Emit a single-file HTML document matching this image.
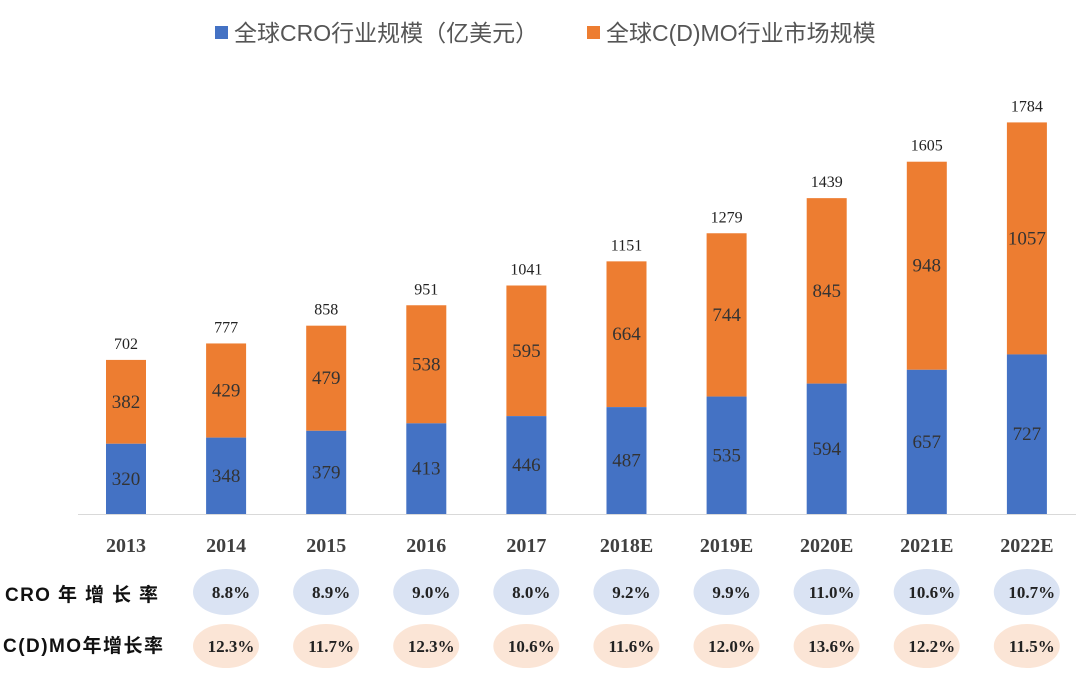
<!DOCTYPE html>
<html><head><meta charset="utf-8"><style>
body{margin:0;background:#fff}
svg{display:block}
.y{font-family:"Liberation Serif",serif;font-weight:bold;font-size:20px;fill:#404040}
.in{font-family:"Liberation Serif",serif;font-size:19px;fill:#333}
.tot{font-family:"Liberation Serif",serif;font-size:16px;fill:#222}
.p{font-family:"Liberation Serif",serif;font-weight:bold;font-size:17px;fill:#222}
.lg{font-family:"Liberation Sans","Noto Sans CJK SC",sans-serif;font-size:23px;fill:#555}
.rl{font-family:"Liberation Sans","Noto Sans CJK SC",sans-serif;font-weight:bold;font-size:19px;fill:#111}
</style></head><body>
<svg width="1080" height="697" viewBox="0 0 1080 697">
<rect x="215" y="26" width="13" height="13" fill="#4472c4"/>
<text x="234" y="41" class="lg">全球CRO行业规模（亿美元）</text>
<rect x="587" y="26" width="13" height="13" fill="#ed7d31"/>
<text x="606" y="41" class="lg">全球C(D)MO行业市场规模</text>
<line x1="78" y1="514.5" x2="1076" y2="514.5" stroke="#d9d9d9" stroke-width="1"/>
<g id="bars"></g>
<text x="5" y="601" class="rl" textLength="153">CRO 年 增  长 率</text>
<text x="3" y="652" class="rl" textLength="160">C(D)MO年增长率</text>
<g id="el"></g>
</svg>
<script>
var cro=[320,348,379,413,446,487,535,594,657,727],cd=[382,429,479,538,595,664,744,845,948,1057],
tot=[702,777,858,951,1041,1151,1279,1439,1605,1784],yr=["2013","2014","2015","2016","2017","2018E","2019E","2020E","2021E","2022E"],
r1=["8.8%","8.9%","9.0%","8.0%","9.2%","9.9%","11.0%","10.6%","10.7%"],r2=["12.3%","11.7%","12.3%","10.6%","11.6%","12.0%","13.6%","12.2%","11.5%"];
var k=0.2195,B=514,s="";
for(var i=0;i<10;i++){var c=126+100.1*i,hb=cro[i]*k,ht=tot[i]*k;
s+='<rect x="'+(c-20)+'" y="'+(B-ht)+'" width="40" height="'+(ht-hb)+'" fill="#ed7d31"/>';
s+='<rect x="'+(c-20)+'" y="'+(B-hb)+'" width="40" height="'+hb+'" fill="#4472c4"/>';
s+='<text x="'+c+'" y="'+(B-hb/2+6)+'" text-anchor="middle" class="in">'+cro[i]+'</text>';
s+='<text x="'+c+'" y="'+(B-(hb+ht)/2+6)+'" text-anchor="middle" class="in">'+cd[i]+'</text>';
s+='<text x="'+c+'" y="'+(B-ht-11)+'" text-anchor="middle" class="tot">'+tot[i]+'</text>';
s+='<text x="'+c+'" y="552" text-anchor="middle" class="y">'+yr[i]+'</text>';}
document.getElementById('bars').innerHTML=s;s="";
for(var j=0;j<9;j++){var c=226+100.1*j;
s+='<ellipse cx="'+c+'" cy="592" rx="33" ry="23" fill="#dae3f3"/>';
s+='<text x="'+(c+5)+'" y="598" text-anchor="middle" class="p">'+r1[j]+'</text>';
s+='<ellipse cx="'+c+'" cy="646" rx="33" ry="22" fill="#fbe5d6"/>';
s+='<text x="'+(c+5)+'" y="652" text-anchor="middle" class="p">'+r2[j]+'</text>';}
document.getElementById('el').innerHTML=s;
</script>
</body></html>
